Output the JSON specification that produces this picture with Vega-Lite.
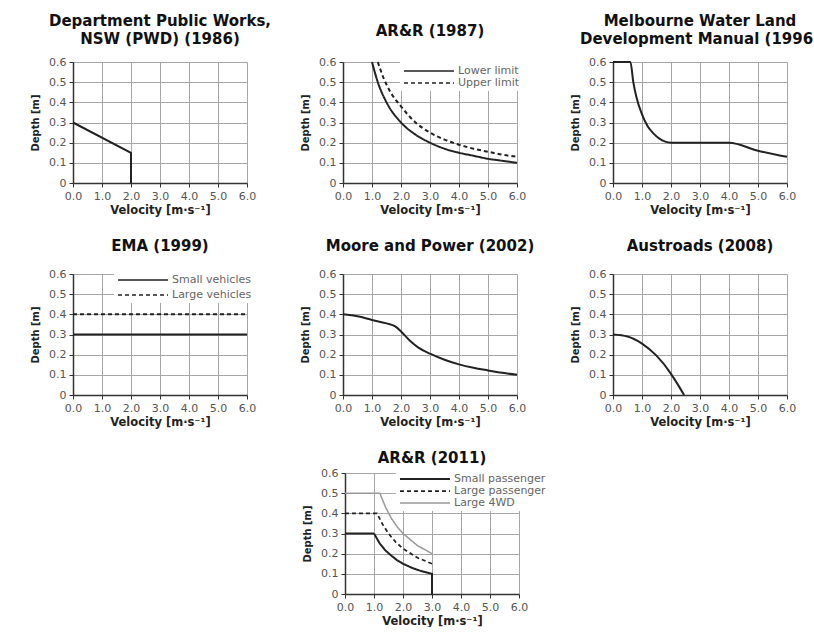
{
  "$schema": "https://vega.github.io/schema/vega-lite/v6.json",
  "padding": {"left": 30, "top": 14, "right": 0, "bottom": 0},
  "background": "white",
  "datasets": {
    "pwd": [{"v": 0, "d": 0.3}, {"v": 2.0, "d": 0.15}, {"v": 2.0, "d": 0}],
    "arr87": [
      {"v": 1.0, "d": 0.6, "s": "Lower limit"}, {"v": 1.2, "d": 0.5, "s": "Lower limit"}, {"v": 1.5, "d": 0.4, "s": "Lower limit"},
      {"v": 2.0, "d": 0.3, "s": "Lower limit"}, {"v": 2.5, "d": 0.24, "s": "Lower limit"}, {"v": 3.0, "d": 0.2, "s": "Lower limit"},
      {"v": 3.5, "d": 0.17, "s": "Lower limit"}, {"v": 4.0, "d": 0.15, "s": "Lower limit"}, {"v": 4.5, "d": 0.135, "s": "Lower limit"},
      {"v": 5.0, "d": 0.12, "s": "Lower limit"}, {"v": 5.5, "d": 0.11, "s": "Lower limit"}, {"v": 6.0, "d": 0.1, "s": "Lower limit"},
      {"v": 1.2, "d": 0.6, "s": "Upper limit"}, {"v": 1.4, "d": 0.52, "s": "Upper limit"}, {"v": 1.6, "d": 0.46, "s": "Upper limit"},
      {"v": 2.0, "d": 0.38, "s": "Upper limit"}, {"v": 2.5, "d": 0.3, "s": "Upper limit"}, {"v": 3.0, "d": 0.25, "s": "Upper limit"},
      {"v": 3.5, "d": 0.215, "s": "Upper limit"}, {"v": 4.0, "d": 0.19, "s": "Upper limit"}, {"v": 4.5, "d": 0.17, "s": "Upper limit"},
      {"v": 5.0, "d": 0.155, "s": "Upper limit"}, {"v": 5.5, "d": 0.14, "s": "Upper limit"}, {"v": 6.0, "d": 0.13, "s": "Upper limit"}
    ],
    "melb": [
      {"v": 0, "d": 0.6}, {"v": 0.6, "d": 0.6}, {"v": 0.7, "d": 0.5}, {"v": 0.8, "d": 0.43}, {"v": 1.0, "d": 0.34},
      {"v": 1.2, "d": 0.28}, {"v": 1.4, "d": 0.245}, {"v": 1.6, "d": 0.22}, {"v": 1.8, "d": 0.205}, {"v": 2.0, "d": 0.2},
      {"v": 4.0, "d": 0.2}, {"v": 5.0, "d": 0.16}, {"v": 6.0, "d": 0.13}
    ],
    "ema": [
      {"v": 0, "d": 0.3, "s": "Small vehicles"}, {"v": 6, "d": 0.3, "s": "Small vehicles"},
      {"v": 0, "d": 0.4, "s": "Large vehicles"}, {"v": 6, "d": 0.4, "s": "Large vehicles"}
    ],
    "moore": [
      {"v": 0, "d": 0.4}, {"v": 0.5, "d": 0.39}, {"v": 1.0, "d": 0.372}, {"v": 1.5, "d": 0.355}, {"v": 1.8, "d": 0.34},
      {"v": 2.0, "d": 0.315}, {"v": 2.3, "d": 0.27}, {"v": 2.6, "d": 0.235}, {"v": 3.0, "d": 0.205}, {"v": 3.5, "d": 0.175},
      {"v": 4.0, "d": 0.152}, {"v": 4.5, "d": 0.135}, {"v": 5.0, "d": 0.122}, {"v": 5.5, "d": 0.11}, {"v": 6.0, "d": 0.1}
    ],
    "austroads": [
      {"v": 0, "d": 0.3}, {"v": 0.5, "d": 0.29}, {"v": 1.0, "d": 0.255}, {"v": 1.5, "d": 0.195},
      {"v": 2.0, "d": 0.105}, {"v": 2.2, "d": 0.06}, {"v": 2.45, "d": 0}
    ],
    "arr11": [
      {"v": 0, "d": 0.3, "s": "Small passenger"}, {"v": 1.0, "d": 0.3, "s": "Small passenger"}, {"v": 1.2, "d": 0.25, "s": "Small passenger"},
      {"v": 1.4, "d": 0.215, "s": "Small passenger"}, {"v": 1.6, "d": 0.19, "s": "Small passenger"}, {"v": 1.8, "d": 0.167, "s": "Small passenger"},
      {"v": 2.0, "d": 0.15, "s": "Small passenger"}, {"v": 2.3, "d": 0.13, "s": "Small passenger"}, {"v": 2.6, "d": 0.115, "s": "Small passenger"},
      {"v": 3.0, "d": 0.1, "s": "Small passenger"}, {"v": 3.0, "d": 0, "s": "Small passenger"},
      {"v": 0, "d": 0.4, "s": "Large passenger"}, {"v": 1.1, "d": 0.4, "s": "Large passenger"}, {"v": 1.3, "d": 0.345, "s": "Large passenger"},
      {"v": 1.5, "d": 0.3, "s": "Large passenger"}, {"v": 1.75, "d": 0.257, "s": "Large passenger"}, {"v": 2.0, "d": 0.225, "s": "Large passenger"},
      {"v": 2.5, "d": 0.18, "s": "Large passenger"}, {"v": 3.0, "d": 0.15, "s": "Large passenger"},
      {"v": 0, "d": 0.5, "s": "Large 4WD"}, {"v": 1.2, "d": 0.5, "s": "Large 4WD"}, {"v": 1.4, "d": 0.43, "s": "Large 4WD"},
      {"v": 1.6, "d": 0.375, "s": "Large 4WD"}, {"v": 1.8, "d": 0.333, "s": "Large 4WD"}, {"v": 2.0, "d": 0.3, "s": "Large 4WD"},
      {"v": 2.5, "d": 0.24, "s": "Large 4WD"}, {"v": 3.0, "d": 0.2, "s": "Large 4WD"}
    ]
  },
  "resolve": {
    "scale": {"strokeDash": "independent", "color": "independent", "strokeWidth": "independent"},
    "legend": {"strokeDash": "independent", "color": "independent", "strokeWidth": "independent"}
  },
  "vconcat": [
    {
      "bounds": "flush",
      "spacing": 96,
      "resolve": {
        "scale": {"strokeDash": "independent", "color": "independent", "strokeWidth": "independent"},
        "legend": {"strokeDash": "independent", "color": "independent", "strokeWidth": "independent"}
      },
      "hconcat": [
        {
          "title": {"text": ["Department Public Works,", "NSW (PWD) (1986)"], "offset": 9},
          "width": 174, "height": 121,
          "data": {"name": "pwd"},
          "mark": {"type": "line", "color": "#222", "strokeWidth": 2},
          "encoding": {
            "x": {"field": "v", "type": "quantitative", "scale": {"domain": [0, 6], "nice": false}, "axis": {"title": "Velocity [m·s⁻¹]", "values": [0, 1, 2, 3, 4, 5, 6], "labelExpr": "format(datum.value, '.1f')"}},
            "y": {"field": "d", "type": "quantitative", "scale": {"domain": [0, 0.6], "nice": false}, "axis": {"title": "Depth [m]", "values": [0, 0.1, 0.2, 0.3, 0.4, 0.5, 0.6], "labelExpr": "datum.value == 0 ? '0' : format(datum.value, '.1f')"}},
            "order": {"value": null}
          }
        },
        {
          "title": {"text": "AR&R (1987)", "offset": 17},
          "width": 174, "height": 121,
          "data": {"name": "arr87"},
          "mark": {"type": "line", "color": "#222", "strokeWidth": 2, "interpolate": "monotone"},
          "encoding": {
            "x": {"field": "v", "type": "quantitative", "scale": {"domain": [0, 6], "nice": false}, "axis": {"title": "Velocity [m·s⁻¹]", "values": [0, 1, 2, 3, 4, 5, 6], "labelExpr": "format(datum.value, '.1f')"}},
            "y": {"field": "d", "type": "quantitative", "scale": {"domain": [0, 0.6], "nice": false}, "axis": {"title": "Depth [m]", "values": [0, 0.1, 0.2, 0.3, 0.4, 0.5, 0.6], "labelExpr": "datum.value == 0 ? '0' : format(datum.value, '.1f')"}},
            "strokeDash": {"field": "s", "type": "nominal", "scale": {"domain": ["Lower limit", "Upper limit"], "range": [[1, 0], [4, 3]]},
              "legend": {"title": null, "orient": "none", "legendX": 57, "legendY": 0, "symbolStrokeColor": "#222", "symbolStrokeWidth": 1.5, "rowPadding": 1}},
            "order": {"value": null}
          }
        },
        {
          "title": {"text": ["Melbourne Water Land", "Development Manual (1996)"], "offset": 9},
          "width": 174, "height": 121,
          "data": {"name": "melb"},
          "mark": {"type": "line", "color": "#222", "strokeWidth": 2, "interpolate": "monotone"},
          "encoding": {
            "x": {"field": "v", "type": "quantitative", "scale": {"domain": [0, 6], "nice": false}, "axis": {"title": "Velocity [m·s⁻¹]", "values": [0, 1, 2, 3, 4, 5, 6], "labelExpr": "format(datum.value, '.1f')"}},
            "y": {"field": "d", "type": "quantitative", "scale": {"domain": [0, 0.6], "nice": false}, "axis": {"title": "Depth [m]", "values": [0, 0.1, 0.2, 0.3, 0.4, 0.5, 0.6], "labelExpr": "datum.value == 0 ? '0' : format(datum.value, '.1f')"}},
            "order": {"value": null}
          }
        }
      ]
    },
    {
      "bounds": "flush",
      "spacing": 96,
      "resolve": {
        "scale": {"strokeDash": "independent", "color": "independent", "strokeWidth": "independent"},
        "legend": {"strokeDash": "independent", "color": "independent", "strokeWidth": "independent"}
      },
      "hconcat": [
        {
          "title": {"text": "EMA (1999)", "offset": 14},
          "width": 174, "height": 121,
          "data": {"name": "ema"},
          "mark": {"type": "line", "color": "#222", "strokeWidth": 2},
          "encoding": {
            "x": {"field": "v", "type": "quantitative", "scale": {"domain": [0, 6], "nice": false}, "axis": {"title": "Velocity [m·s⁻¹]", "values": [0, 1, 2, 3, 4, 5, 6], "labelExpr": "format(datum.value, '.1f')"}},
            "y": {"field": "d", "type": "quantitative", "scale": {"domain": [0, 0.6], "nice": false}, "axis": {"title": "Depth [m]", "values": [0, 0.1, 0.2, 0.3, 0.4, 0.5, 0.6], "labelExpr": "datum.value == 0 ? '0' : format(datum.value, '.1f')"}},
            "strokeDash": {"field": "s", "type": "nominal", "scale": {"domain": ["Small vehicles", "Large vehicles"], "range": [[1, 0], [4, 3]]},
              "legend": {"title": null, "orient": "none", "legendX": 41, "legendY": -3, "symbolStrokeColor": "#222", "symbolStrokeWidth": 1.5, "rowPadding": 4}},
            "order": {"value": null}
          }
        },
        {
          "title": {"text": "Moore and Power (2002)", "offset": 14},
          "width": 174, "height": 121,
          "data": {"name": "moore"},
          "mark": {"type": "line", "color": "#222", "strokeWidth": 2, "interpolate": "monotone"},
          "encoding": {
            "x": {"field": "v", "type": "quantitative", "scale": {"domain": [0, 6], "nice": false}, "axis": {"title": "Velocity [m·s⁻¹]", "values": [0, 1, 2, 3, 4, 5, 6], "labelExpr": "format(datum.value, '.1f')"}},
            "y": {"field": "d", "type": "quantitative", "scale": {"domain": [0, 0.6], "nice": false}, "axis": {"title": "Depth [m]", "values": [0, 0.1, 0.2, 0.3, 0.4, 0.5, 0.6], "labelExpr": "datum.value == 0 ? '0' : format(datum.value, '.1f')"}},
            "order": {"value": null}
          }
        },
        {
          "title": {"text": "Austroads (2008)", "offset": 14},
          "width": 174, "height": 121,
          "data": {"name": "austroads"},
          "mark": {"type": "line", "color": "#222", "strokeWidth": 2, "interpolate": "monotone"},
          "encoding": {
            "x": {"field": "v", "type": "quantitative", "scale": {"domain": [0, 6], "nice": false}, "axis": {"title": "Velocity [m·s⁻¹]", "values": [0, 1, 2, 3, 4, 5, 6], "labelExpr": "format(datum.value, '.1f')"}},
            "y": {"field": "d", "type": "quantitative", "scale": {"domain": [0, 0.6], "nice": false}, "axis": {"title": "Depth [m]", "values": [0, 0.1, 0.2, 0.3, 0.4, 0.5, 0.6], "labelExpr": "datum.value == 0 ? '0' : format(datum.value, '.1f')"}},
            "order": {"value": null}
          }
        }
      ]
    },
    {
      "bounds": "flush",
      "spacing": 98,
      "resolve": {
        "scale": {"strokeDash": "independent", "color": "independent", "strokeWidth": "independent"},
        "legend": {"strokeDash": "independent", "color": "independent", "strokeWidth": "independent"}
      },
      "hconcat": [
        {
          "width": 174, "height": 121,
          "data": {"values": []},
          "mark": {"type": "point"},
          "encoding": {}
        },
        {
          "title": {"text": "AR&R (2011)", "offset": 1},
          "width": 174, "height": 121,
          "data": {"name": "arr11"},
          "mark": {"type": "line"},
          "encoding": {
            "x": {"field": "v", "type": "quantitative", "scale": {"domain": [0, 6], "nice": false}, "axis": {"title": "Velocity [m·s⁻¹]", "values": [0, 1, 2, 3, 4, 5, 6], "labelExpr": "format(datum.value, '.1f')"}},
            "y": {"field": "d", "type": "quantitative", "scale": {"domain": [0, 0.6], "nice": false}, "axis": {"title": "Depth [m]", "values": [0, 0.1, 0.2, 0.3, 0.4, 0.5, 0.6], "labelExpr": "datum.value == 0 ? '0' : format(datum.value, '.1f')"}},
            "strokeDash": {"field": "s", "type": "nominal", "scale": {"domain": ["Small passenger", "Large passenger", "Large 4WD"], "range": [[1, 0], [4, 3], [1, 0]]},
              "legend": {"title": null, "orient": "none", "legendX": 51, "legendY": -3, "rowPadding": 1}},
            "color": {"field": "s", "type": "nominal", "scale": {"domain": ["Small passenger", "Large passenger", "Large 4WD"], "range": ["#222", "#222", "#999"]},
              "legend": {"title": null, "orient": "none", "legendX": 51, "legendY": -3, "rowPadding": 1}},
            "strokeWidth": {"field": "s", "type": "nominal", "scale": {"domain": ["Small passenger", "Large passenger", "Large 4WD"], "range": [2, 1.5, 1]},
              "legend": {"title": null, "orient": "none", "legendX": 51, "legendY": -3, "rowPadding": 1}},
            "order": {"value": null}
          }
        }
      ]
    }
  ],
  "spacing": 23,
  "config": {
    "view": {"stroke": null},
    "font": "DejaVu Sans",
    "title": {"font": "DejaVu Sans", "fontSize": 15, "fontWeight": "bold", "color": "#111", "lineHeight": 18},
    "axis": {
      "labelFont": "DejaVu Sans", "labelFontSize": 11, "labelColor": "#555", "labelFlush": false, "labelOverlap": false,
      "titleFont": "DejaVu Sans", "titleFontWeight": "bold", "titleColor": "#222",
      "gridColor": "#a6a6a6", "gridWidth": 1, "gridOpacity": 1,
      "domainColor": "#333", "domainWidth": 1.5, "tickColor": "#333", "tickSize": 4, "labelPadding": 3
    },
    "axisX": {"titleFontSize": 11.5, "titlePadding": 3},
    "axisY": {"titleFontSize": 10, "titlePadding": 8},
    "legend": {
      "symbolType": "M-1,0H9", "symbolSize": 100, "labelOffset": 43,
      "labelFont": "DejaVu Sans", "labelFontSize": 11, "labelColor": "#666",
      "fillColor": "white", "padding": 3, "symbolFillColor": "transparent"
    }
  }
}
